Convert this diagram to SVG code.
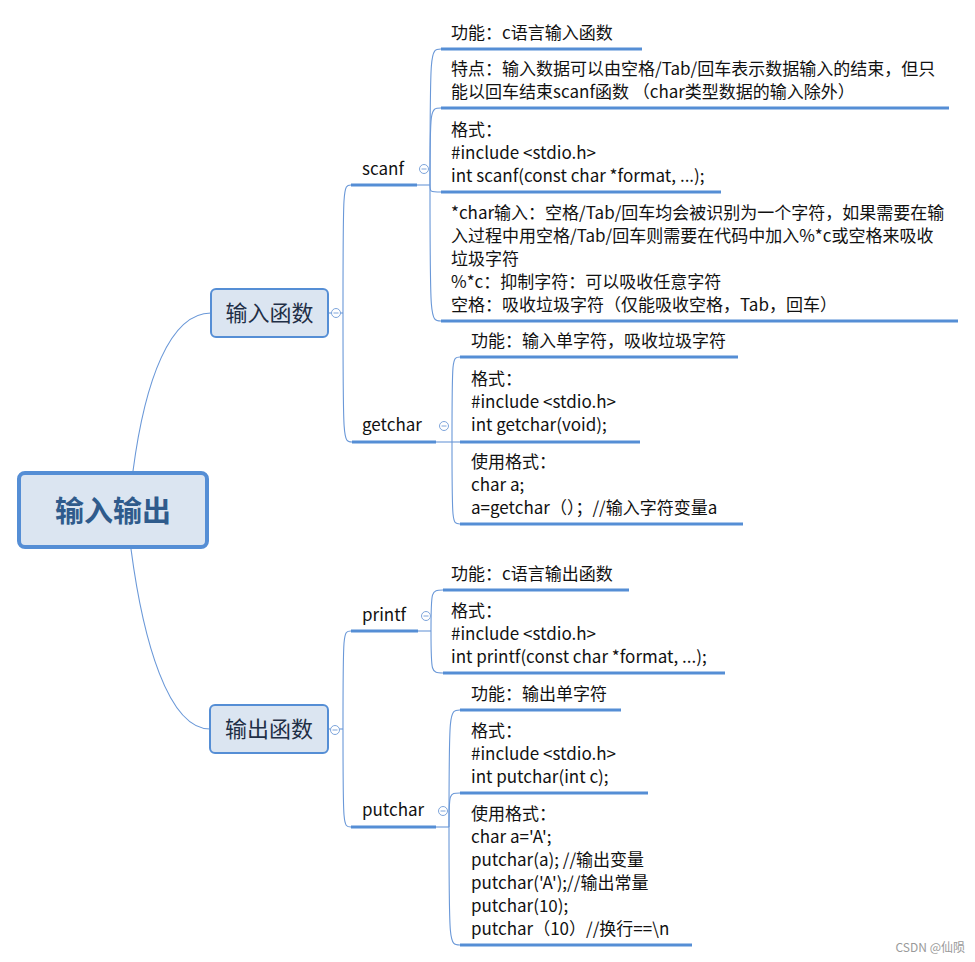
<svg xmlns="http://www.w3.org/2000/svg" width="975" height="962" viewBox="0 0 975 962">
<style>
  .bg{fill:#ffffff}
  .conn{fill:none;stroke:#6a98d8;stroke-width:1.1}
  .ul{stroke:#558ed5;stroke-width:3;stroke-linecap:butt}
  .t{font-family:"Noto Sans CJK SC","Microsoft YaHei",sans-serif;font-size:17px;fill:#111111}
  .l2{font-family:"Noto Sans CJK SC","Microsoft YaHei",sans-serif;font-size:17px;fill:#111111}
  .l1box{fill:#dbe5f1;stroke:#558ed5;stroke-width:2}
  .l1t{font-family:"Noto Sans CJK SC","Microsoft YaHei",sans-serif;font-size:22px;fill:#1f2f46;text-anchor:middle}
  .rootbox{fill:#dbe5f1;stroke:#558ed5;stroke-width:4}
  .roott{font-family:"Noto Sans CJK SC","Microsoft YaHei",sans-serif;font-size:29px;font-weight:bold;fill:#2f5b8c;text-anchor:middle}
  .col{fill:#ffffff;stroke:#7ea5db;stroke-width:1}
  .minus{stroke:#7ea5db;stroke-width:1}
  .wm{font-family:"Noto Sans CJK SC","Microsoft YaHei",sans-serif;font-size:12px;fill:#9a9a9a;text-anchor:end}
</style>
<defs>
  <g id="collapse">
    <circle class="col" cx="0" cy="0" r="4.5"/>
    <line class="minus" x1="-2.5" y1="0" x2="2.5" y2="0"/>
  </g>
</defs>
<rect class="bg" x="0" y="0" width="975" height="962"/>

<g id="connectors">
  <!-- root to level 1 -->
  <path class="conn" d="M133,471 C145,380 170,313 211,313"/>
  <path class="conn" d="M131,549 C143,640 168,729 210,729"/>
  <!-- 输入函数 to scanf / getchar -->
  <path class="conn" d="M328,313 L343,313"/>
  <path class="conn" d="M343,313 C343,185 343,185 351,185"/>
  <path class="conn" d="M343,313 C343,442 343,442 352,442"/>
  <!-- 输出函数 to printf / putchar -->
  <path class="conn" d="M328,729 L343,729"/>
  <path class="conn" d="M343,729 C343,631 343,631 351,631"/>
  <path class="conn" d="M343,729 C343,827 343,827 351,827"/>
  <!-- scanf children -->
  <path class="conn" d="M417,185 L430,185"/>
  <path class="conn" d="M430,185 C430,49 430,49 441,49"/>
  <path class="conn" d="M430,185 C430,108 430,108 441,108"/>
  <path class="conn" d="M430,185 C430,192 430,192 441,192"/>
  <path class="conn" d="M430,185 C430,321 430,321 441,321"/>
  <!-- getchar children -->
  <path class="conn" d="M436,442 L460,442"/>
  <path class="conn" d="M452,442 C452,357 452,357 460,357"/>
  <path class="conn" d="M452,442 C452,524 452,524 460,524"/>
  <!-- printf children -->
  <path class="conn" d="M418,631 L431,631"/>
  <path class="conn" d="M431,631 C431,590 431,590 443,590"/>
  <path class="conn" d="M431,631 C431,673 431,673 443,673"/>
  <!-- putchar children -->
  <path class="conn" d="M436,827 L449,827"/>
  <path class="conn" d="M449,827 C449,710 449,710 460,710"/>
  <path class="conn" d="M449,827 C449,793 449,793 460,793"/>
  <path class="conn" d="M449,827 C449,945 449,945 460,945"/>
</g>

<g id="root">
  <rect class="rootbox" x="19" y="473" width="188" height="74" rx="6"/>
  <text class="roott" x="113" y="522">输入输出</text>
</g>

<g id="input-func">
  <rect class="l1box" x="211" y="289" width="117" height="48" rx="5"/>
  <text class="l1t" x="269.5" y="321">输入函数</text>
  <use href="#collapse" x="336" y="313"/>
</g>

<g id="output-func">
  <rect class="l1box" x="210" y="705" width="118" height="48" rx="5"/>
  <text class="l1t" x="269" y="737">输出函数</text>
  <use href="#collapse" x="335" y="730"/>
</g>

<g id="scanf">
  <text class="l2" x="362" y="175">scanf</text>
  <line class="ul" x1="351" y1="185" x2="417" y2="185"/>
  <use href="#collapse" x="424" y="169"/>
</g>
<g id="scanf-func">
  <text class="t" x="451" y="39">功能：c语言输入函数</text>
  <line class="ul" x1="441" y1="49" x2="642" y2="49"/>
</g>
<g id="scanf-feature">
  <text class="t" x="451" y="75">特点：输入数据可以由空格/Tab/回车表示数据输入的结束，但只</text>
  <text class="t" x="451" y="98">能以回车结束scanf函数 （char类型数据的输入除外）</text>
  <line class="ul" x1="441" y1="108" x2="949" y2="108"/>
</g>
<g id="scanf-format">
  <text class="t" x="451" y="136">格式：</text>
  <text class="t" x="451" y="159">#include &lt;stdio.h&gt;</text>
  <text class="t" x="451" y="182">int scanf(const char *format, ...);</text>
  <line class="ul" x1="441" y1="192" x2="721" y2="192"/>
</g>
<g id="scanf-char">
  <text class="t" x="451" y="219">*char输入：空格/Tab/回车均会被识别为一个字符，如果需要在输</text>
  <text class="t" x="451" y="242">入过程中用空格/Tab/回车则需要在代码中加入%*c或空格来吸收</text>
  <text class="t" x="451" y="265">垃圾字符</text>
  <text class="t" x="451" y="288">%*c：抑制字符：可以吸收任意字符</text>
  <text class="t" x="451" y="311">空格：吸收垃圾字符（仅能吸收空格，Tab，回车）</text>
  <line class="ul" x1="441" y1="321" x2="958" y2="321"/>
</g>

<g id="getchar">
  <text class="l2" x="362" y="431">getchar</text>
  <line class="ul" x1="352" y1="442" x2="436" y2="442"/>
  <use href="#collapse" x="444" y="426"/>
</g>
<g id="getchar-func">
  <text class="t" x="471" y="347">功能：输入单字符，吸收垃圾字符</text>
  <line class="ul" x1="460" y1="357" x2="738" y2="357"/>
</g>
<g id="getchar-format">
  <text class="t" x="471" y="385">格式：</text>
  <text class="t" x="471" y="408">#include &lt;stdio.h&gt;</text>
  <text class="t" x="471" y="431">int getchar(void);</text>
  <line class="ul" x1="460" y1="442" x2="640" y2="442"/>
</g>
<g id="getchar-usage">
  <text class="t" x="471" y="468">使用格式：</text>
  <text class="t" x="471" y="491">char a;</text>
  <text class="t" x="471" y="514">a=getchar（）；//输入字符变量a</text>
  <line class="ul" x1="460" y1="524" x2="743" y2="524"/>
</g>

<g id="printf">
  <text class="l2" x="362" y="621">printf</text>
  <line class="ul" x1="351" y1="631" x2="418" y2="631"/>
  <use href="#collapse" x="426" y="616"/>
</g>
<g id="printf-func">
  <text class="t" x="451" y="580">功能：c语言输出函数</text>
  <line class="ul" x1="443" y1="590" x2="629" y2="590"/>
</g>
<g id="printf-format">
  <text class="t" x="451" y="617">格式：</text>
  <text class="t" x="451" y="640">#include &lt;stdio.h&gt;</text>
  <text class="t" x="451" y="663">int printf(const char *format, ...);</text>
  <line class="ul" x1="443" y1="673" x2="725" y2="673"/>
</g>

<g id="putchar">
  <text class="l2" x="362" y="816">putchar</text>
  <line class="ul" x1="351" y1="827" x2="436" y2="827"/>
  <use href="#collapse" x="443" y="811"/>
</g>
<g id="putchar-func">
  <text class="t" x="471" y="700">功能：输出单字符</text>
  <line class="ul" x1="460" y1="710" x2="621" y2="710"/>
</g>
<g id="putchar-format">
  <text class="t" x="471" y="737">格式：</text>
  <text class="t" x="471" y="760">#include &lt;stdio.h&gt;</text>
  <text class="t" x="471" y="783">int putchar(int c);</text>
  <line class="ul" x1="460" y1="793" x2="648" y2="793"/>
</g>
<g id="putchar-usage">
  <text class="t" x="471" y="820">使用格式：</text>
  <text class="t" x="471" y="843">char a='A';</text>
  <text class="t" x="471" y="866">putchar(a); //输出变量</text>
  <text class="t" x="471" y="889">putchar('A');//输出常量</text>
  <text class="t" x="471" y="912">putchar(10);</text>
  <text class="t" x="471" y="935">putchar（10）//换行==\n</text>
  <line class="ul" x1="460" y1="945" x2="692" y2="945"/>
</g>

<text class="wm" x="965" y="952">CSDN @仙陨</text>
</svg>
